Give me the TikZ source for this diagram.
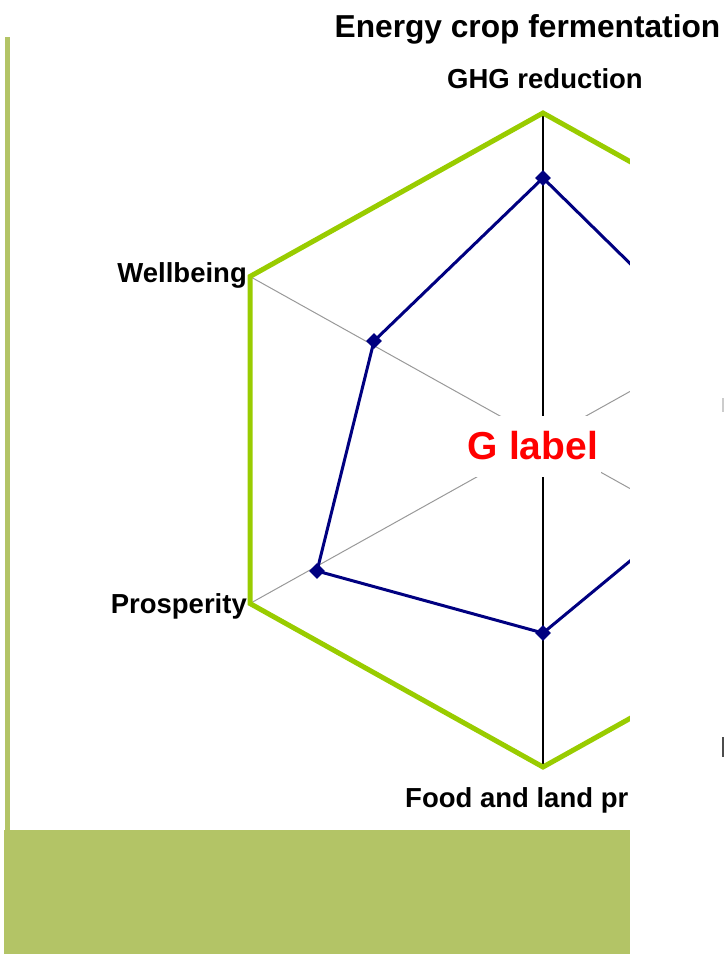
\documentclass[tikz,border=0pt]{standalone}
\usepackage{fontspec}
\setmainfont{Liberation Sans}
\usetikzlibrary{shapes.geometric}

\definecolor{hexgreen}{HTML}{99CC00}
\definecolor{barolive}{HTML}{B3C466}
\definecolor{datanavy}{HTML}{000080}

\begin{document}
\begin{tikzpicture}[x=1pt,y=-1pt]
    % Node styles
    \tikzstyle{axislabel} = [font=\fontsize{27.5}{31}\selectfont\bfseries, inner sep=0pt]
    \tikzstyle{outline} = [hexgreen, line width=5pt, line join=miter]
    \tikzstyle{spoke} = [gray!80, line width=1pt]
    \tikzstyle{series} = [datanavy, line width=3pt, line join=round]
    \tikzstyle{datamark} = [diamond, fill=datanavy, inner sep=0pt, minimum size=16pt]

    \useasboundingbox (0,0) rectangle (726,954);

    % Hexagon corners
    \coordinate (c) at (543,440);
    \coordinate (ghg) at (543,113);
    \coordinate (rtop) at (836,276.5);
    \coordinate (rbot) at (836,603.5);
    \coordinate (food) at (543,767);
    \coordinate (pros) at (250,603.5);
    \coordinate (well) at (250,276.5);

    % Spokes
    \draw[spoke] (well) -- (rbot);
    \draw[spoke] (pros) -- (rtop);
    \draw[black, line width=2pt] (ghg) -- (food);

    % Outline
    \draw[outline] (ghg) -- (rtop) -- (rbot) -- (food) -- (pros) -- (well) -- cycle;

    % Data points
    \node (p1) at (543,178) [datamark] {};
    \node (p2) at (713,345) [datamark] {};
    \node (p3) at (682,518) [datamark] {};
    \node (p4) at (543,633) [datamark] {};
    \node (p5) at (317,571) [datamark] {};
    \node (p6) at (374,341) [datamark] {};
    \draw[series] (p1.center) -- (p2.center) -- (p3.center) -- (p4.center)
        -- (p5.center) -- (p6.center) -- cycle;

    % Centre label
    \node (glabel) at (533,446) [fill=white, text=red, inner sep=3pt, minimum height=61pt,
        font=\fontsize{39}{44}\selectfont\bfseries] {G label};

    % Frame
    \fill[white] (630,95) rectangle (726,954);
    \fill[barolive] (4,830) rectangle (630,954);
    \fill[barolive] (5,37) rectangle (10,830);
    \fill[gray!40] (722,398) rectangle (724,412);
    \fill[black!70] (722,737) rectangle (724,757);

    % Labels
    \node (title) at (527.5,37) [anchor=base, inner sep=0pt,
        font=\fontsize{31.7}{36}\selectfont\bfseries] {Energy crop fermentation};
    \node (ghglab) at (545,88) [axislabel, anchor=base] {GHG reduction};
    \node (welllab) at (247,282) [axislabel, anchor=base east] {Wellbeing};
    \node (proslab) at (247,613) [axislabel, anchor=base east] {Prosperity};
    \node (foodlab) at (405,807) [axislabel, anchor=base west] {Food and land pr};

\end{tikzpicture}
\end{document}
